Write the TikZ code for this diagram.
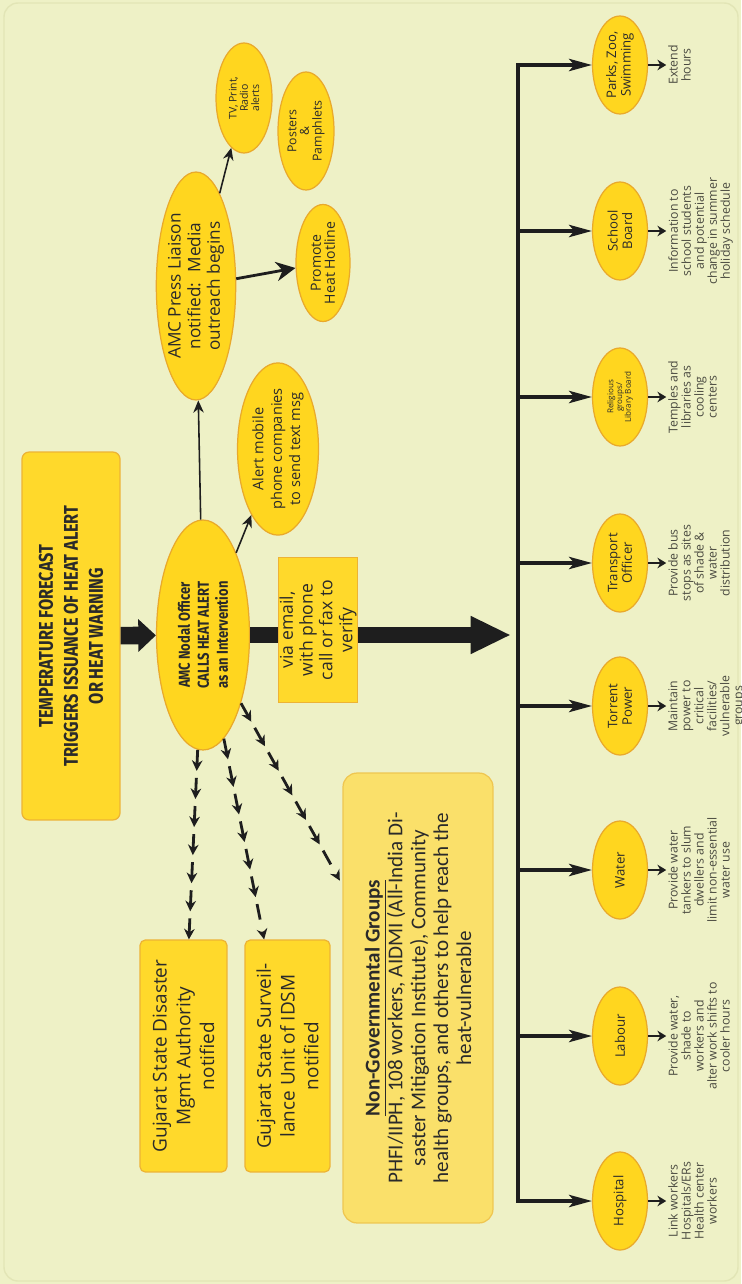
\documentclass[tikz,border=0pt]{standalone}
\usepackage{fontspec}
\setmainfont{Open Sans}
\newfontfamily\cond[FakeStretch=0.82]{Fira Sans}
\newfontfamily\carl{Carlito}
\usetikzlibrary{shapes.geometric,arrows.meta,decorations.markings,calc}
\definecolor{bg}{HTML}{EEF1C6}
\definecolor{bgline}{HTML}{E2E5B6}
\definecolor{ellfill}{HTML}{FFD61F}
\definecolor{ellline}{HTML}{E9A92B}
\definecolor{boxfill}{HTML}{FFD92B}
\definecolor{boxline}{HTML}{EDB335}
\definecolor{ngofill}{HTML}{FAE06A}
\definecolor{ngoline}{HTML}{EFC650}
\definecolor{arr}{HTML}{1E1E1E}
\definecolor{txt}{HTML}{2A2A2A}
\definecolor{notec}{HTML}{4A4A40}
\begin{document}
\begin{tikzpicture}[x=0.02cm,y=-0.02cm,
  ell/.style={ellipse, draw=ellline, fill=ellfill, line width=0.7pt, inner sep=0pt, rotate=90, align=center, text=txt},
  ybox/.style={rectangle, draw=boxline, fill=boxfill, line width=0.7pt, inner sep=0pt, rotate=90, align=center, text=txt},
  rell/.style={ell, minimum width=1.96cm, minimum height=1.1cm, font=\fontsize{7.5}{8.3}\selectfont},
  rnote/.style={rotate=90, anchor=north, align=center, inner sep=0pt, text=notec, font=\fontsize{7}{7.4}\selectfont},
  thinarr/.style={draw=arr, line width=0.9pt, -{Stealth[length=7pt,width=6pt]}},
  branch/.style={draw=arr, line width=1.8pt, -{Stealth[length=13pt,width=7pt,inset=3pt]}},
  smallarr/.style={draw=arr, line width=1.1pt, -{Stealth[length=5pt,width=6pt]}, shorten >=1pt},
  dasharr/.style={draw=arr, line width=1.6pt, dash pattern=on 9pt off 7pt,
     -{Stealth[length=6pt,width=6pt]},
     postaction={decorate},
     decoration={markings, mark=between positions 12pt and -14pt step 16pt with {\arrow{Stealth[length=6pt,width=6pt]}}}}
]
\fill[bg] (0,0) rectangle (741,1284);
\draw[bgline, line width=0.8pt, rounded corners=8pt] (4,3) rectangle (738,1281);
\useasboundingbox (0,0) rectangle (741,1284);

% top-level boxes
\node[ybox, rounded corners=4pt, minimum width=7.36cm, minimum height=1.96cm,
  font={\cond\bfseries\fontsize{11.3}{14.2}\selectfont}] (temp) at (71,636)
  {TEMPERATURE FORECAST\\TRIGGERS ISSUANCE OF HEAT ALERT\\OR HEAT WARNING};

\node[ell, minimum width=4.6cm, minimum height=1.86cm,
  font={\cond\bfseries\fontsize{9}{10.8}\selectfont}] (nodal) at (203,635)
  {AMC Nodal Officer\\CALLS HEAT ALERT\\as an Intervention};

\draw[arr, line width=10pt, -{Triangle[length=10pt,width=18pt]}] (temp) -- (nodal);

\coordinate (hub) at (511,635);
\draw[arr, line width=9.5pt, -{Triangle[length=23pt,width=20pt]}] (nodal) -- (hub);

\node[ybox, minimum width=2.9cm, minimum height=1.58cm,
  font=\fontsize{10}{11.3}\selectfont] (via) at (318,630)
  {via email,\\with phone\\call or fax to\\verify};

% media branch
\node[ell, minimum width=4.56cm, minimum height=1.52cm,
  font=\fontsize{9.8}{11.2}\selectfont] (press) at (196,286)
  {AMC Press Liaison\\notified:~ Media\\outreach begins};
\node[ell, minimum width=2.2cm, minimum height=1.12cm,
  font=\fontsize{6}{6.4}\selectfont] (tv) at (244,98) {TV, Print,\\Radio\\alerts};
\node[ell, minimum width=2.36cm, minimum height=1.12cm,
  font=\fontsize{7}{7.2}\selectfont] (posters) at (306,131) {Posters\\\&\\Pamphlets};
\node[ell, minimum width=2.34cm, minimum height=1.08cm,
  font=\fontsize{8}{8}\selectfont] (promote) at (323,263) {Promote\\Heat Hotline};
\node[ell, minimum width=2.85cm, minimum height=1.62cm,
  font=\fontsize{8.3}{10.5}\selectfont] (alert) at (278,449)
  {Alert mobile\\phone companies\\to send text msg};

\draw[thinarr] (nodal) -- (press);
\draw[thinarr] (press) -- (tv);
\draw[thinarr] (nodal) -- (alert);
\draw[arr, line width=1.6pt, -{Stealth[length=11pt,width=11pt]}] (press) -- (promote);

% notified boxes
\node[ybox, rounded corners=3pt, minimum width=4.64cm, minimum height=1.74cm,
  font=\fontsize{10.8}{13.5}\selectfont] (gsdma) at (183.5,1056)
  {Gujarat State Disaster\\Mgmt Authority\\notified};
\node[ybox, rounded corners=3pt, minimum width=4.64cm, minimum height=1.70cm,
  font=\fontsize{10.8}{13.5}\selectfont] (gssu) at (287.5,1056)
  {Gujarat State Surveil-\\lance Unit of IDSM\\notified};
\node[ybox, rounded corners=8pt, draw=ngoline, fill=ngofill, minimum width=9cm, minimum height=3cm,
  font={\carl\fontsize{12}{13}\selectfont}] (ngo) at (418,998)
  {\textbf{\underline{Non-Governmental Groups}}\\PHFI/IIPH, 108 workers, AIDMI (All-India Di-\\saster Mitigation Institute), Community\\health groups, and others to help reach the\\heat-vulnerable};

\draw[dasharr] (nodal) -- (gsdma);
\draw[dasharr] (nodal) -- (gssu);
\draw[dasharr, shorten >=3pt] (nodal) -- ($(ngo.north east)!0.25!(ngo.north west)$);

% distribution bus
\coordinate (b1) at (518,65);
\coordinate (b2) at (518,231);
\coordinate (b3) at (518,397);
\coordinate (b4) at (518,563);
\coordinate (b5) at (518,706);
\coordinate (b6) at (518,870);
\coordinate (b7) at (518,1036);
\coordinate (b8) at (518,1201);
\draw[arr, line width=1.8pt] ($(b1)+(0,-1.5)$) -- ($(b8)+(0,1.5)$);

\node[rell] (parks) at (620,65) {Parks, Zoo,\\Swimming};
\node[rell] (school) at (620,231) {School\\Board};
\node[rell, font=\fontsize{4.6}{5}\selectfont] (relig) at (620,397) {Religious\\groups/\\Library Board};
\node[rell] (transport) at (620,563) {Transport\\Officer};
\node[rell] (torrent) at (620,706) {Torrent\\Power};
\node[rell] (water) at (620,870) {Water};
\node[rell] (labour) at (620,1036) {Labour};
\node[rell] (hosp) at (620,1201) {Hospital};

\node[rnote] (n1) at (668,65) {Extend\\hours};
\node[rnote] (n2) at (668,231) {Information to\\school students\\and potential\\change in summer\\holiday schedule};
\node[rnote] (n3) at (668,397) {Temples and\\libraries as\\cooling\\centers};
\node[rnote] (n4) at (668,563) {Provide bus\\stops as sites\\of shade \&\\water\\distribution};
\node[rnote] (n5) at (668,706) {Maintain\\power to\\critical\\facilities/\\vulnerable\\groups};
\node[rnote] (n6) at (668,870) {Provide water\\tankers to slum\\dwellers and\\limit non-essential\\water use};
\node[rnote] (n7) at (668,1036) {Provide water,\\shade to\\workers and\\alter work shifts to\\cooler hours};
\node[rnote] (n8) at (668,1201) {Link workers\\Hospitals/ERs\\Health center\\workers};

\draw[branch] (b1) -- (parks);
\draw[branch] (b2) -- (school);
\draw[branch] (b3) -- (relig);
\draw[branch] (b4) -- (transport);
\draw[branch] (b5) -- (torrent);
\draw[branch] (b6) -- (water);
\draw[branch] (b7) -- (labour);
\draw[branch] (b8) -- (hosp);

\draw[smallarr] (parks) -- (n1);
\draw[smallarr] (school) -- (n2);
\draw[smallarr] (relig) -- (n3);
\draw[smallarr] (transport) -- (n4);
\draw[smallarr] (torrent) -- (n5);
\draw[smallarr] (water) -- (n6);
\draw[smallarr] (labour) -- (n7);
\draw[smallarr] (hosp) -- (n8);
\end{tikzpicture}
\end{document}
